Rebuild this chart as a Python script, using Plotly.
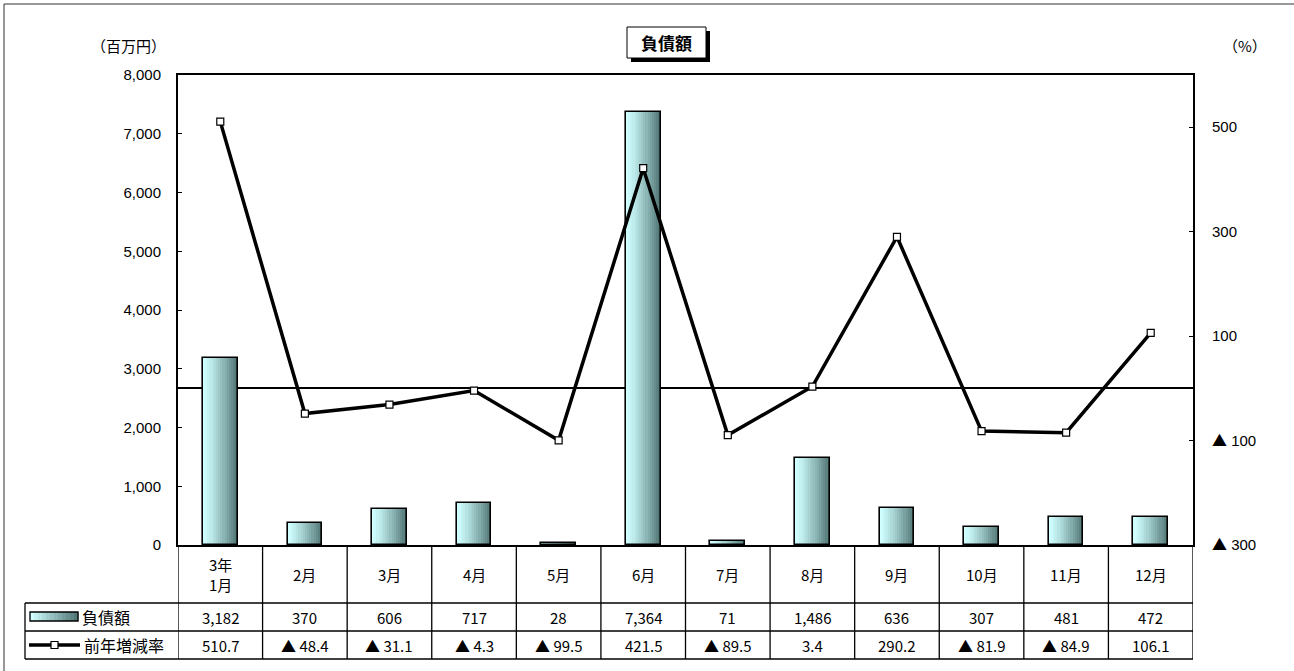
import plotly.graph_objects as go

categories = ["3年<br>1月", "2月", "3月", "4月", "5月", "6月", "7月", "8月", "9月", "10月", "11月", "12月"]
debt = [3182, 370, 606, 717, 28, 7364, 71, 1486, 636, 307, 481, 472]
rate = [510.7, -48.4, -31.1, -4.3, -99.5, 421.5, -89.5, 3.4, 290.2, -81.9, -84.9, 106.1]
left_ticks = [0, 1000, 2000, 3000, 4000, 5000, 6000, 7000, 8000]
right_ticks = [500, 300, 100, -100, -300]
series_names = ["負債額", "前年増減率"]

W, H = 1294, 671
L, R, T, B = 178, 1193, 75, 545
JP = "Noto Sans CJK JP"
NUM = "Liberation Sans, Arial, sans-serif"
TRI = "<span style='font-family:Noto Sans CJK JP'>▲</span> "

def px_x(x):
    return (x - L) / (R - L)

def px_y(y):
    return (B - y) / (B - T)

def fmt_rate(v):
    return (TRI + "%.1f" % abs(v)) if v < 0 else ("%.1f" % v)

def fmt_tick(v):
    return (TRI + "%d" % abs(v)) if v < 0 else ("%d" % v)

xs = list(range(len(categories)))
fig = go.Figure()

# gradient bars (light cyan -> dark teal), stacked overlapping slices
bw = 0.41
N = 16
c0 = (208, 255, 255)
c1 = (84, 120, 120)

def grad(t):
    return "rgb(%d,%d,%d)" % tuple(int(a + (b - a) * t) for a, b in zip(c0, c1))

for k in range(N):
    t = (k / (N - 1)) ** 1.2
    off = -bw / 2 + k * bw / N
    fig.add_trace(go.Bar(x=xs, y=debt, width=bw / 2 - off, offset=off,
                         marker=dict(color=grad(t), line=dict(width=0)),
                         showlegend=False, hoverinfo="skip", yaxis="y"))
fig.add_trace(go.Bar(x=xs, y=debt, width=bw, offset=-bw / 2, name=series_names[0],
                     marker=dict(color="rgba(0,0,0,0)", line=dict(color="black", width=1.6)),
                     showlegend=False, yaxis="y"))

fig.add_trace(go.Scatter(x=xs, y=rate, name=series_names[1], yaxis="y2", mode="lines+markers",
                         line=dict(color="black", width=3.5),
                         marker=dict(symbol="square", size=7, color="white",
                                     line=dict(color="black", width=1.2)),
                         showlegend=False))

shapes = []
annotations = []
line_style = dict(color="black", width=1.3)

def ann(x, y, text, xref="paper", size=15, xanchor="center", family=JP):
    annotations.append(dict(x=x, y=y, xref=xref, yref="paper", text=text, showarrow=False,
                            xanchor=xanchor, yanchor="middle",
                            font=dict(family=family, size=size, color="black")))

# table grid
for yy in (603, 631, 659):
    shapes.append(dict(type="line", xref="paper", yref="paper", x0=px_x(25), x1=1,
                       y0=px_y(yy), y1=px_y(yy), line=line_style))
shapes.append(dict(type="line", xref="paper", yref="paper", x0=px_x(25), x1=px_x(25),
                   y0=px_y(603), y1=px_y(659), line=line_style))
for i in range(len(categories) + 1):
    shapes.append(dict(type="line", xref="x", yref="paper", x0=i - 0.5, x1=i - 0.5,
                       y0=0, y1=px_y(659), line=line_style))

for i, c in enumerate(categories):
    ann(i, px_y(574), c, xref="x", size=15)
    ann(i, px_y(617), "{:,}".format(debt[i]), xref="x", size=15)
    ann(i, px_y(645), fmt_rate(rate[i]), xref="x", size=15)

# legend cells
for k in range(12):
    shapes.append(dict(type="rect", xref="paper", yref="paper",
                       x0=px_x(30 + k * 4), x1=px_x(30 + (k + 1) * 4 + 0.5),
                       y0=px_y(621), y1=px_y(612), line=dict(width=0), fillcolor=grad(k / 11)))
shapes.append(dict(type="rect", xref="paper", yref="paper", x0=px_x(30), x1=px_x(78),
                   y0=px_y(621), y1=px_y(612), line=dict(color="black", width=1.3)))
ann(px_x(80), px_y(617), series_names[0], size=16, xanchor="left")
shapes.append(dict(type="line", xref="paper", yref="paper", x0=px_x(29), x1=px_x(80),
                   y0=px_y(645), y1=px_y(645), line=dict(color="black", width=3.5)))
shapes.append(dict(type="rect", xref="paper", yref="paper", x0=px_x(51), x1=px_x(58),
                   y0=px_y(648.5), y1=px_y(641.5), line=dict(color="black", width=1.2), fillcolor="white"))
ann(px_x(82), px_y(645), series_names[1], size=16, xanchor="left")

# title box with shadow
shapes.append(dict(type="rect", xref="paper", yref="paper", x0=px_x(631), x1=px_x(710),
                   y0=px_y(62), y1=px_y(31), line=dict(width=0), fillcolor="black"))
shapes.append(dict(type="rect", xref="paper", yref="paper", x0=px_x(627), x1=px_x(706),
                   y0=px_y(58), y1=px_y(27), line=dict(color="black", width=1), fillcolor="white"))
ann(px_x(666.5), px_y(42.5), "<b>負債額</b>", size=17)
ann(px_x(128), px_y(45), "（百万円）", size=15)
ann(px_x(1245), px_y(45), "（%）", size=15)

# outer frame (left and top)
shapes.append(dict(type="line", xref="paper", yref="paper", x0=px_x(4), x1=px_x(4),
                   y0=px_y(4), y1=px_y(680), line=dict(color="#333", width=1)))
shapes.append(dict(type="line", xref="paper", yref="paper", x0=px_x(4), x1=px_x(1300),
                   y0=px_y(4), y1=px_y(4), line=dict(color="#333", width=1)))

fig.update_layout(
    width=W, height=H,
    margin=dict(l=L, r=W - R, t=T, b=H - B, pad=0),
    paper_bgcolor="white", plot_bgcolor="white",
    barmode="overlay", bargap=0,
    showlegend=False,
    xaxis=dict(range=[-0.5, len(categories) - 0.5], showticklabels=False, ticks="",
               showgrid=False, zeroline=False, showline=True, linecolor="black", linewidth=2,
               mirror=True, fixedrange=True),
    yaxis=dict(range=[0, 8000], tickvals=left_ticks, tickformat=",d", ticks="inside",
               ticklen=4, tickcolor="black", showgrid=False, zeroline=False, showline=True,
               linecolor="black", linewidth=2, tickfont=dict(family=NUM, size=15, color="black"),
               ticklabelstandoff=12),
    yaxis2=dict(range=[-300, 600], overlaying="y", side="right", tickvals=right_ticks,
                ticktext=[fmt_tick(v) for v in right_ticks], ticks="inside", ticklen=4,
                tickcolor="black", showgrid=False, zeroline=True, zerolinecolor="black",
                zerolinewidth=1.5, showline=True, linecolor="black", linewidth=2,
                tickfont=dict(family=NUM, size=15, color="black"), ticklabelstandoff=14),
    shapes=shapes, annotations=annotations,
)

fig.write_html("out.html", config={"displayModeBar": False},
               post_script="document.body.style.margin='0px';")
